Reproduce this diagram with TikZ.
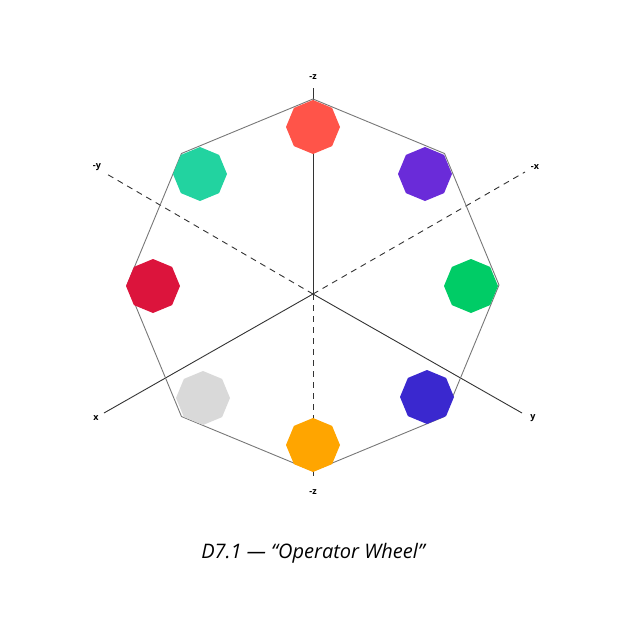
\documentclass[tikz,border=0pt]{standalone}
\usepackage{fontspec}
\setmainfont{Open Sans}
\usetikzlibrary{shapes.geometric,calc}
\definecolor{axisgray}{HTML}{333333}
\definecolor{rimgray}{HTML}{777777}
\definecolor{opA}{HTML}{FF5449}
\definecolor{opB}{HTML}{6A2BD9}
\definecolor{opC}{HTML}{00CC66}
\definecolor{opD}{HTML}{3A28CF}
\definecolor{opE}{HTML}{FFA500}
\definecolor{opF}{HTML}{D9D9D9}
\definecolor{opG}{HTML}{DC143C}
\definecolor{opH}{HTML}{22D3A0}
\tikzset{
  axis/.style={draw=axisgray, line width=0.9pt},
  hidden/.style={axis, dash pattern=on 6pt off 5pt},
  lbl/.style={font=\bfseries\fontsize{9}{9}\selectfont, text=black, inner sep=1pt},
  op/.style={regular polygon, regular polygon sides=8, shape border rotate=22.5,
    minimum size=54pt, inner sep=0pt, fill=#1}
}
\begin{document}
\begin{tikzpicture}[x=1pt,y=-1pt]
    \useasboundingbox (0,0) rectangle (627,627);
    \coordinate (O) at (313,294);
    \coordinate (W) at (313,285);

    % axes
    \draw[axis]   (O)--(313,88)  coordinate (mz);
    \draw[hidden] (O)--(313,480) coordinate (mzb);
    \draw[hidden] (O)--(105,173) coordinate (my);
    \draw[hidden] (O)--(525,172) coordinate (mx);
    \draw[axis]   (O)--(104,413) coordinate (px);
    \draw[axis]   (O)--(522,413) coordinate (py);
    \node[lbl] at (313,77)  {-z};
    \node[lbl] at (313,492) {-z};
    \node[lbl] at (97,167)  {-y};
    \node[lbl] at (535,167) {-x};
    \node[lbl] at (96,418)  {x};
    \node[lbl] at (533,418) {y};

    % rim
    \draw[rimgray, line width=0.9pt] ($(W)+(90:186)$)
      \foreach \a in {135,180,...,405} { -- ($(W)+(\a:186)$) } -- cycle;

    % operators
    \node[op=opA] (opA) at (313,127) {};
    \node[op=opB] (opB) at (425,174) {};
    \node[op=opC] (opC) at (471,286) {};
    \node[op=opD] (opD) at (427,397) {};
    \node[op=opE] (opE) at (313,445) {};
    \node[op=opF] (opF) at (203,398) {};
    \node[op=opG] (opG) at (153,286) {};
    \node[op=opH] (opH) at (200,174) {};

    \node[font=\itshape\fontsize{20}{20}\selectfont] (cap) at (313,553)
      {D7.1 — “Operator Wheel”};
\end{tikzpicture}
\end{document}
